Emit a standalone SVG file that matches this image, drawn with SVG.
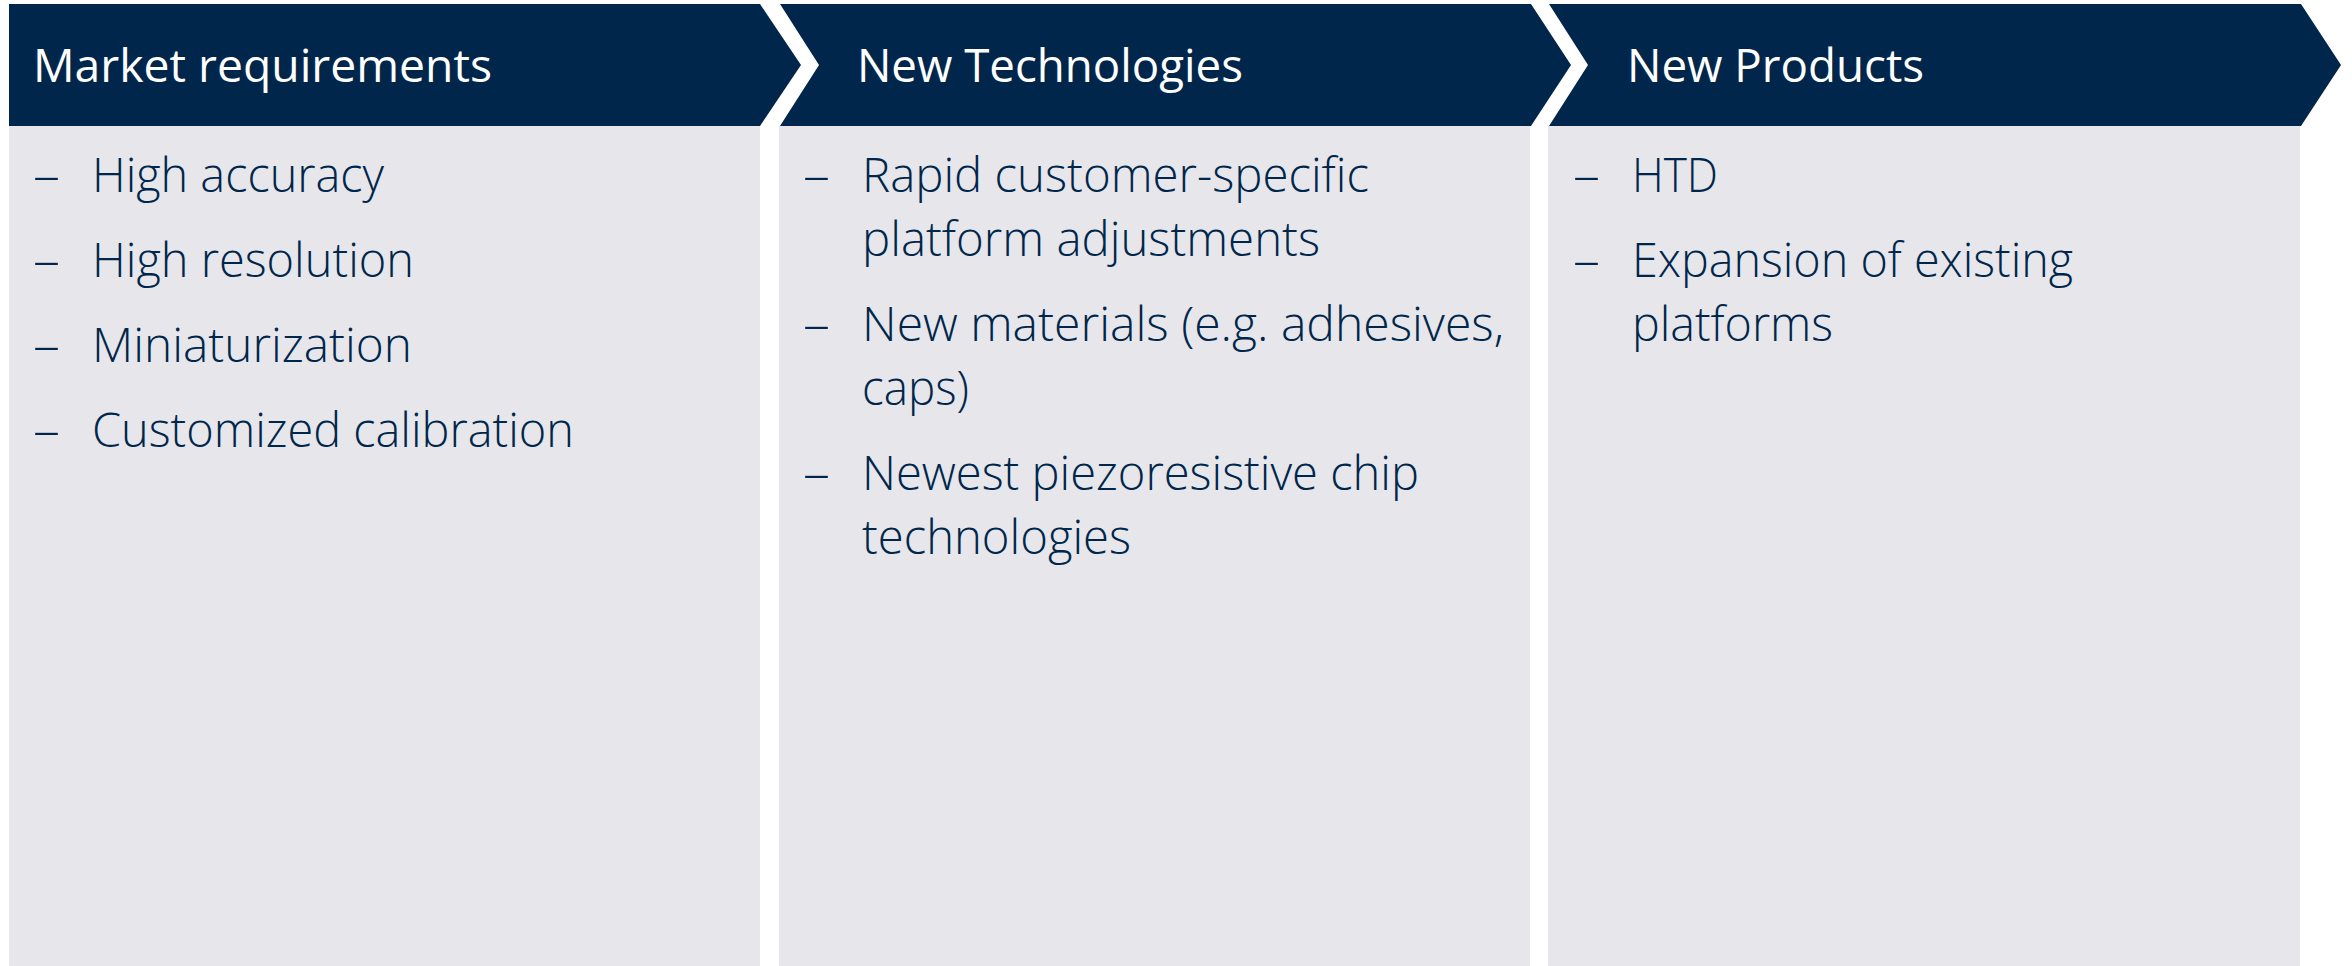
<svg xmlns="http://www.w3.org/2000/svg" width="2352" height="966" viewBox="0 0 2352 966">
<style>
.hdr{fill:#00264B}
.body{fill:#E6E6EB}
.ht{font-family:"Open Sans","Noto Sans",sans-serif;font-size:45px;fill:#FFFFFF}
.bt{font-family:"Open Sans","Noto Sans",sans-serif;font-size:48px;font-weight:300;fill:#00264B}
</style>
<rect width="2352" height="966" fill="#FFFFFF"/>
<g id="col1">
<rect class="body" x="9" y="126" width="751" height="840"/>
<polygon class="hdr" points="9,4 760,4 801,65 760,126 9,126"/>
<text class="ht" x="33" y="82" textLength="459" lengthAdjust="spacingAndGlyphs">Market requirements</text>
<text class="bt" x="33" y="192" textLength="27" lengthAdjust="spacingAndGlyphs">–</text>
<text class="bt" x="92" y="192" textLength="292" lengthAdjust="spacingAndGlyphs">High accuracy</text>
<text class="bt" x="33" y="277" textLength="27" lengthAdjust="spacingAndGlyphs">–</text>
<text class="bt" x="92" y="277" textLength="322" lengthAdjust="spacingAndGlyphs">High resolution</text>
<text class="bt" x="33" y="362" textLength="27" lengthAdjust="spacingAndGlyphs">–</text>
<text class="bt" x="92" y="362" textLength="320" lengthAdjust="spacingAndGlyphs">Miniaturization</text>
<text class="bt" x="33" y="447" textLength="27" lengthAdjust="spacingAndGlyphs">–</text>
<text class="bt" x="92" y="447" textLength="482" lengthAdjust="spacingAndGlyphs">Customized calibration</text>
</g>
<g id="col2">
<rect class="body" x="779" y="126" width="751" height="840"/>
<polygon class="hdr" points="780,4 1531,4 1571,65 1531,126 780,126 819,65"/>
<text class="ht" x="857" y="82" textLength="386" lengthAdjust="spacingAndGlyphs">New Technologies</text>
<text class="bt" x="803" y="192" textLength="27" lengthAdjust="spacingAndGlyphs">–</text>
<text class="bt" x="862" y="192" textLength="507" lengthAdjust="spacingAndGlyphs">Rapid customer-specific</text>
<text class="bt" x="862" y="256" textLength="458" lengthAdjust="spacingAndGlyphs">platform adjustments</text>
<text class="bt" x="803" y="341" textLength="27" lengthAdjust="spacingAndGlyphs">–</text>
<text class="bt" x="862" y="341" textLength="642" lengthAdjust="spacingAndGlyphs">New materials (e.g. adhesives,</text>
<text class="bt" x="862" y="405" textLength="107" lengthAdjust="spacingAndGlyphs">caps)</text>
<text class="bt" x="803" y="490" textLength="27" lengthAdjust="spacingAndGlyphs">–</text>
<text class="bt" x="862" y="490" textLength="557" lengthAdjust="spacingAndGlyphs">Newest piezoresistive chip</text>
<text class="bt" x="862" y="554" textLength="269" lengthAdjust="spacingAndGlyphs">technologies</text>
</g>
<g id="col3">
<rect class="body" x="1548" y="126" width="752" height="840"/>
<polygon class="hdr" points="1549,4 2301,4 2341,65 2301,126 1549,126 1588,65"/>
<text class="ht" x="1627" y="82" textLength="297" lengthAdjust="spacingAndGlyphs">New Products</text>
<text class="bt" x="1573" y="192" textLength="27" lengthAdjust="spacingAndGlyphs">–</text>
<text class="bt" x="1632" y="192" textLength="86" lengthAdjust="spacingAndGlyphs">HTD</text>
<text class="bt" x="1573" y="277" textLength="27" lengthAdjust="spacingAndGlyphs">–</text>
<text class="bt" x="1632" y="277" textLength="441" lengthAdjust="spacingAndGlyphs">Expansion of existing</text>
<text class="bt" x="1632" y="341" textLength="201" lengthAdjust="spacingAndGlyphs">platforms</text>
</g>
<g id="connectors"></g>
</svg>
